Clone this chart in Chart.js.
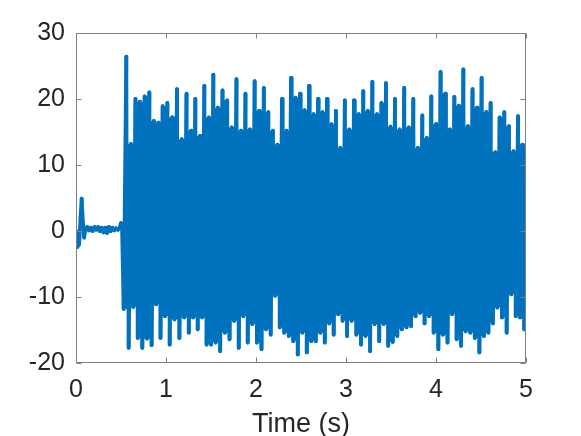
<!DOCTYPE html>
<html><head><meta charset="utf-8">
<script src="https://cdn.jsdelivr.net/npm/chart.js@4.4.0/dist/chart.umd.min.js"></script>
<style>html,body{margin:0;padding:0;background:#fff;}#wrap{width:581px;height:436px;}</style>
</head><body><div id="wrap"><canvas id="c" width="581" height="436"></canvas></div>
<script>
// Quiet lead-in (s, value)
const quietTime  = [0.000,0.015,0.035,0.050,0.063,0.078,0.090,0.105,0.125,0.145,0.165,0.185,0.205,0.225,0.245,0.265,0.285,0.305,0.325,0.345,0.365,0.385,0.405,0.425,0.445,0.465,0.485,0.500,0.512];
const quietValue = [0.0,-2.4,-2.0,2.0,4.9,1.0,-1.0,0.3,0.6,0.1,0.5,0.0,0.6,0.2,0.6,0.0,0.5,-0.2,0.5,-0.3,0.6,0.0,0.5,0.1,0.4,0.2,0.5,1.2,0.3];

// Visible spikes (local maxima) of the oscillation
const peakTime  = [0.559,0.610,0.661,0.711,0.763,0.815,0.865,0.914,0.963,1.015,
                   1.067,1.122,1.175,1.228,1.278,1.326,1.378,1.426,1.476,1.526,
                   1.576,1.628,1.680,1.731,1.783,1.833,1.883,1.933,1.985,2.035,
                   2.087,2.137,2.188,2.238,2.289,2.339,2.389,2.439,2.489,2.539,
                   2.589,2.639,2.689,2.739,2.789,2.838,2.888,2.937,2.987,3.037,
                   3.089,3.141,3.192,3.242,3.293,3.344,3.394,3.444,3.494,3.544,
                   3.595,3.647,3.698,3.748,3.798,3.848,3.898,3.948,4.000,4.051,
                   4.102,4.153,4.204,4.254,4.304,4.355,4.406,4.456,4.507,4.557,
                   4.607,4.657,4.707,4.759,4.810,4.861,4.911,4.959,5.000];
const peakValue = [26.4,13.2,20.0,19.6,20.4,21.0,16.7,16.4,18.9,19.4,
                   17.2,21.5,13.9,20.8,15.2,20.0,14.4,22.0,17.2,23.7,
                   18.7,21.3,19.8,15.7,23.0,15.2,20.8,15.4,22.7,18.2,
                   21.7,18.0,15.2,13.1,20.0,15.2,23.2,20.2,20.8,18.3,
                   22.0,17.7,20.0,18.0,20.0,16.2,18.2,12.6,19.8,15.4,
                   19.8,17.7,21.2,18.2,22.6,17.7,19.4,22.4,15.8,20.0,
                   15.4,21.7,15.7,20.0,12.6,17.5,14.1,20.4,16.2,24.1,
                   20.8,15.4,20.3,19.0,24.5,15.9,21.5,18.7,23.2,18.0,
                   19.4,11.9,17.2,18.0,15.9,12.1,17.4,13.1,5.3];

// Visible dips (local minima) of the oscillation
const troughTime  = [0.530,0.585,0.636,0.686,0.737,0.789,0.840,0.890,0.939,0.989,
                     1.041,1.095,1.149,1.202,1.253,1.302,1.352,1.402,1.451,1.501,
                     1.551,1.602,1.654,1.706,1.757,1.808,1.858,1.908,1.959,2.010,
                     2.061,2.112,2.163,2.213,2.264,2.314,2.364,2.414,2.464,2.514,
                     2.564,2.614,2.664,2.714,2.764,2.814,2.863,2.913,2.962,3.012,
                     3.063,3.115,3.167,3.217,3.268,3.319,3.369,3.419,3.469,3.519,
                     3.570,3.621,3.673,3.723,3.773,3.823,3.873,3.923,3.974,4.026,
                     4.077,4.128,4.179,4.229,4.279,4.330,4.381,4.431,4.482,4.532,
                     4.582,4.632,4.682,4.733,4.785,4.836,4.886,4.935,4.980];
const troughValue = [-11.8,-17.7,-11.5,-16.2,-17.7,-16.3,-17.3,-11.1,-16.2,-12.9,
                     -17.2,-13.4,-16.2,-13.1,-15.4,-13.1,-14.9,-13.1,-17.2,-17.2,
                     -16.9,-18.2,-15.4,-16.4,-13.6,-17.7,-12.9,-16.9,-14.1,-16.9,
                     -17.9,-14.9,-15.7,-9.8,-14.6,-15.4,-15.9,-16.7,-18.7,-15.4,
                     -18.4,-16.7,-16.7,-15.4,-16.9,-14.0,-15.7,-12.6,-13.6,-15.9,
                     -13.6,-15.7,-17.2,-15.9,-18.2,-14.1,-16.7,-14.1,-17.4,-16.8,
                     -15.9,-14.9,-14.6,-14.4,-12.9,-12.4,-14.0,-12.9,-15.4,-17.9,
                     -15.7,-16.9,-12.6,-16.4,-17.4,-15.2,-15.4,-16.2,-18.4,-15.9,
                     -15.4,-14.0,-11.6,-13.1,-15.4,-9.6,-12.9,-13.1,-14.9];

// Faster inner swings inside the band: the shoulder levels between visible spikes
const innerLowTime  = [0.567,0.618,0.669,0.719,0.771,0.823,0.873,0.922,0.971,1.023,
                       1.076,1.131,1.184,1.236,1.286,1.335,1.386,1.434,1.484,1.534,
                       1.585,1.637,1.689,1.740,1.791,1.841,1.891,1.942,1.993,2.044,
                       2.095,2.146,2.196,2.247,2.297,2.347,2.397,2.447,2.497,2.547,
                       2.597,2.647,2.697,2.747,2.797,2.846,2.896,2.945,2.995,3.046,
                       3.098,3.150,3.200,3.251,3.302,3.352,3.402,3.452,3.502,3.553,
                       3.604,3.656,3.706,3.756,3.806,3.856,3.906,3.957,4.009,4.060,
                       4.111,4.162,4.212,4.262,4.313,4.364,4.414,4.465,4.515,4.565,
                       4.615,4.665,4.716,4.768,4.819,4.869,4.919,4.966];
const innerLowValue = [-11.5,-11.2,-11.2,-15.9,-16.0,-16.0,-10.8,-10.8,-12.6,-12.6,
                       -13.1,-13.1,-12.8,-12.8,-12.8,-12.8,-12.8,-12.8,-16.9,-16.6,
                       -16.6,-15.1,-15.1,-13.3,-13.3,-12.6,-12.6,-13.8,-13.8,-16.6,
                       -14.6,-14.6,-9.5,-9.5,-14.3,-15.1,-15.6,-16.4,-15.1,-15.1,
                       -16.4,-16.4,-15.1,-15.1,-13.7,-13.7,-12.3,-12.3,-13.3,-13.3,
                       -13.3,-15.4,-15.6,-15.6,-13.8,-13.8,-13.8,-13.8,-16.5,-15.6,
                       -14.6,-14.3,-14.1,-12.6,-12.1,-12.1,-12.6,-12.6,-15.1,-15.4,
                       -15.4,-12.3,-12.3,-16.1,-14.9,-14.9,-15.1,-15.9,-15.6,-15.1,
                       -13.7,-11.3,-11.3,-12.8,-9.3,-9.3,-12.6,-12.8];
const innerHighTime  = [0.576,0.627,0.678,0.728,0.780,0.832,0.882,0.931,0.980,1.032,
                        1.086,1.140,1.193,1.245,1.294,1.344,1.394,1.443,1.493,1.543,
                        1.594,1.646,1.698,1.749,1.800,1.850,1.900,1.951,2.002,2.053,
                        2.104,2.155,2.205,2.256,2.306,2.356,2.406,2.456,2.506,2.556,
                        2.606,2.656,2.706,2.756,2.806,2.855,2.905,2.954,3.004,3.055,
                        3.107,3.159,3.209,3.260,3.311,3.361,3.411,3.461,3.511,3.562,
                        3.613,3.665,3.715,3.765,3.815,3.865,3.915,3.966,4.018,4.069,
                        4.120,4.171,4.221,4.271,4.322,4.373,4.423,4.474,4.524,4.574,
                        4.624,4.674,4.725,4.777,4.828,4.878,4.927,4.973];
const innerHighValue = [12.9,12.9,19.3,19.3,20.1,16.4,16.1,16.1,18.6,16.9,
                        16.9,13.6,13.6,14.9,14.9,14.1,14.1,16.9,16.9,18.4,
                        18.4,19.5,15.4,15.4,14.9,14.9,15.1,15.1,17.9,17.9,
                        17.7,14.9,12.8,12.8,14.9,14.9,19.9,19.9,18.0,18.0,
                        17.4,17.4,17.7,17.7,15.9,15.9,12.3,12.3,15.1,15.1,
                        17.4,17.4,17.9,17.9,17.4,17.4,19.1,15.5,15.5,15.1,
                        15.1,15.4,15.4,12.3,12.3,13.8,13.8,15.9,15.9,20.5,
                        15.1,15.1,18.7,18.7,15.6,15.6,18.4,18.4,17.7,17.7,
                        11.6,11.6,16.9,15.6,11.8,11.8,12.8,12.8];

const xTickValues = [0,1,2,3,4,5];
const yTickValues = [-20,-10,0,10,20,30];
const xTitle = 'Time (s)';

const points = [];
quietTime.forEach((t,i)=>points.push({x:t,y:quietValue[i]}));
troughTime.forEach((t,i)=>{
  points.push({x:t,y:troughValue[i]});
  points.push({x:peakTime[i],y:peakValue[i]});
  if(i<innerLowTime.length){
    points.push({x:innerLowTime[i],y:innerLowValue[i]});
    points.push({x:innerHighTime[i],y:innerHighValue[i]});
  }
});

const FONT = "'Liberation Sans', Arial, Helvetica, sans-serif";
const boxPlugin = {
  id:'box',
  afterDraw(chart){
    const {ctx, chartArea:a, scales:{x,y}} = chart;
    ctx.save();
    ctx.strokeStyle = '#808080';
    ctx.lineWidth = 1;
    const L = Math.round(a.left)+0.5, R = Math.round(a.right)-0.5, T = Math.round(a.top)+0.5, B = Math.round(a.bottom)-0.5;
    ctx.strokeRect(L, T, R-L, B-T);
    const tl = 5;
    ctx.beginPath();
    xTickValues.forEach(v=>{
      const p = Math.round(x.getPixelForValue(v))+0.5;
      ctx.moveTo(p,B); ctx.lineTo(p,B-tl);
      ctx.moveTo(p,T); ctx.lineTo(p,T+tl);
    });
    yTickValues.forEach(v=>{
      const p = Math.round(y.getPixelForValue(v))+0.5;
      ctx.moveTo(L,p); ctx.lineTo(L+tl,p);
      ctx.moveTo(R,p); ctx.lineTo(R-tl,p);
    });
    ctx.stroke();
    ctx.restore();
  }
};

new Chart(document.getElementById('c').getContext('2d'), {
  type:'line',
  data:{datasets:[{data:points, borderColor:'#0072BD', borderWidth:3.8, pointRadius:0, tension:0, fill:false,
    borderJoinStyle:'round', borderCapStyle:'round',
    segment:{borderColor: c => (c.p0DataIndex % 2 ? '#0072BD' : '#0072BE')}
  }]},
  options:{
    responsive:false, animation:false, events:[],
    layout:{padding:{top:33,right:55,left:0,bottom:0}},
    plugins:{legend:{display:false}, tooltip:{enabled:false}},
    scales:{
      x:{type:'linear', min:0, max:5,
        afterBuildTicks:s=>{s.ticks = xTickValues.map(v=>({value:v}));},
        afterFit:s=>{s.height = 73;},
        grid:{display:false, drawTicks:false}, border:{display:false},
        ticks:{padding:12, color:'#262626', font:{family:FONT, size:25}, maxRotation:0, autoSkip:false},
        title:{display:true, text:xTitle, color:'#262626', font:{family:FONT, size:27, lineHeight:1}, padding:{top:0,bottom:-2}}
      },
      y:{type:'linear', min:-20, max:30,
        afterBuildTicks:s=>{s.ticks = yTickValues.map(v=>({value:v}));},
        afterFit:s=>{s.width = 76;},
        grid:{display:false, drawTicks:false}, border:{display:false},
        ticks:{padding:11, color:'#262626', font:{family:FONT, size:25}, autoSkip:false}
      }
    }
  },
  plugins:[boxPlugin]
});
</script></body></html>
